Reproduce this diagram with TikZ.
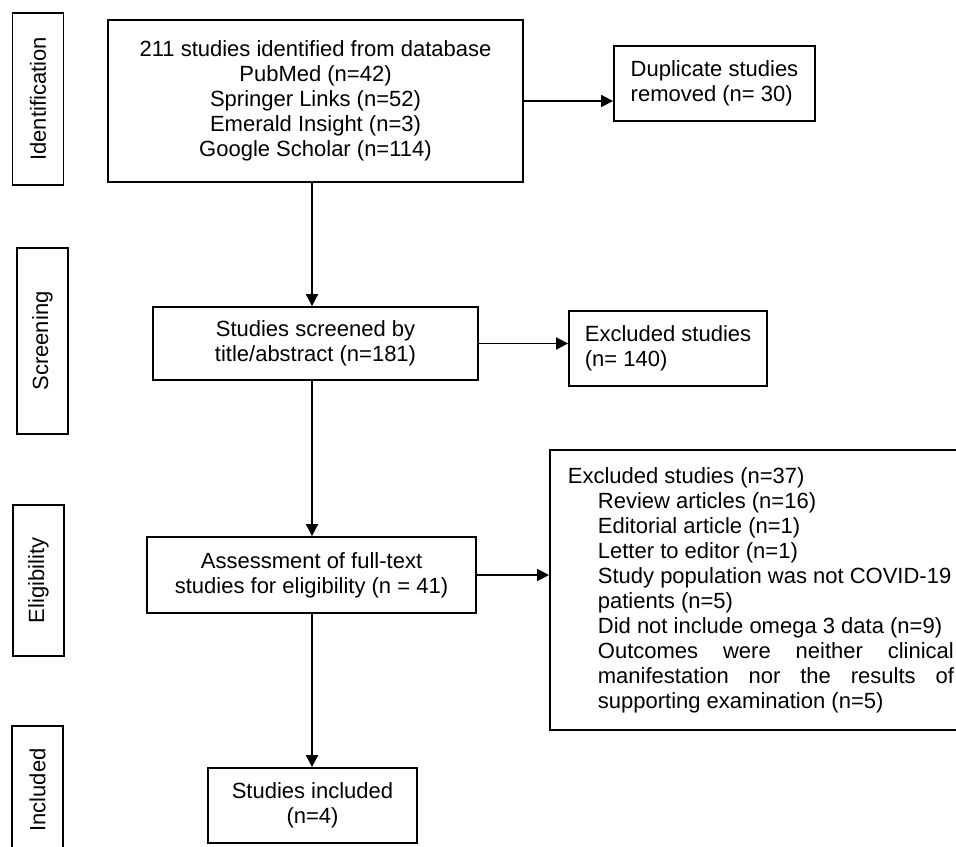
\documentclass[tikz,border=0pt]{standalone}
\usepackage{fontspec}
\setmainfont{Liberation Sans}
\usetikzlibrary{arrows.meta}

\begin{document}
\begin{tikzpicture}[x=0.5pt,y=-0.5pt,
        font=\fontsize{11pt}{12.5pt}\selectfont,
        box/.style={draw,line width=0.9pt,inner sep=0pt,align=center},
        stage/.style={box,rotate=90,minimum height=25.5pt},
        arr/.style={line width=0.9pt,-{Triangle[length=6pt,width=6pt]}}]
        \useasboundingbox (0,0) rectangle (956,846);

        % phases
        \node[stage,minimum width=86pt] (idlab) at (38,99) {Identification};
        \node[stage,minimum width=93pt] (scrlab) at (42.5,341) {Screening};
        \node[stage,minimum width=75.5pt] (elilab) at (38.5,580.5) {Eligibility};
        \node[stage,minimum width=64pt] (inclab) at (37.5,790) {Included};

        % main column
        \node[box,minimum width=207.5pt,minimum height=81pt] (src) at (315.5,101)
            {211 studies identified from database\\PubMed (n=42)\\Springer Links (n=52)\\Emerald Insight (n=3)\\Google Scholar (n=114)};
        \node[box,minimum width=162.5pt,minimum height=36.5pt] (screen) at (315.5,343.5)
            {Studies screened by\\title/abstract (n=181)};
        \node[box,minimum width=164.5pt,minimum height=38pt] (assess) at (311.5,575)
            {Assessment of full-text\\studies for eligibility (n = 41)};
        \node[box,minimum width=104.5pt,minimum height=37.5pt] (incl) at (312.5,805.5)
            {Studies included\\(n=4)};

        % side boxes
        \node[box,align=left,minimum width=100.5pt,minimum height=37.5pt] (dup) at (714.5,83.5)
            {Duplicate studies\\removed (n= 30)};
        \node[box,align=left,minimum width=99pt,minimum height=37.5pt] (ex140) at (668,348.5)
            {Excluded studies\\(n= 140)};
        \node[box,align=justify,inner xsep=9pt,text width=193pt,minimum height=140pt,anchor=west] (ex37) at (549,590)
            {\parindent=0pt\parskip=0pt\hyphenpenalty=10000 Excluded studies (n=37)\par
            \leftskip=15pt Review articles (n=16)\par
            Editorial article (n=1)\par
            Letter to editor (n=1)\par
            Study population was not COVID-19\par
            patients (n=5)\par
            Did not include omega 3 data (n=9)\par
            Outcomes were neither clinical\linebreak manifestation nor the results of\linebreak supporting examination (n=5)\par};

        \coordinate (spine) at (312,0);

        \draw[arr] (src.east) -- (src.east -| dup.west); % duplicates out
        \draw[arr] (src.south -| spine) -- (screen.north -| spine);
        \draw[arr] (screen.east) -- (screen.east -| ex140.west); % title/abstract out
        \draw[arr] (screen.south -| spine) -- (assess.north -| spine);
        \draw[arr] (assess.east) -- (assess.east -| ex37.west); % full text out
        \draw[arr] (assess.south -| spine) -- (incl.north -| spine);
\end{tikzpicture}
\end{document}
